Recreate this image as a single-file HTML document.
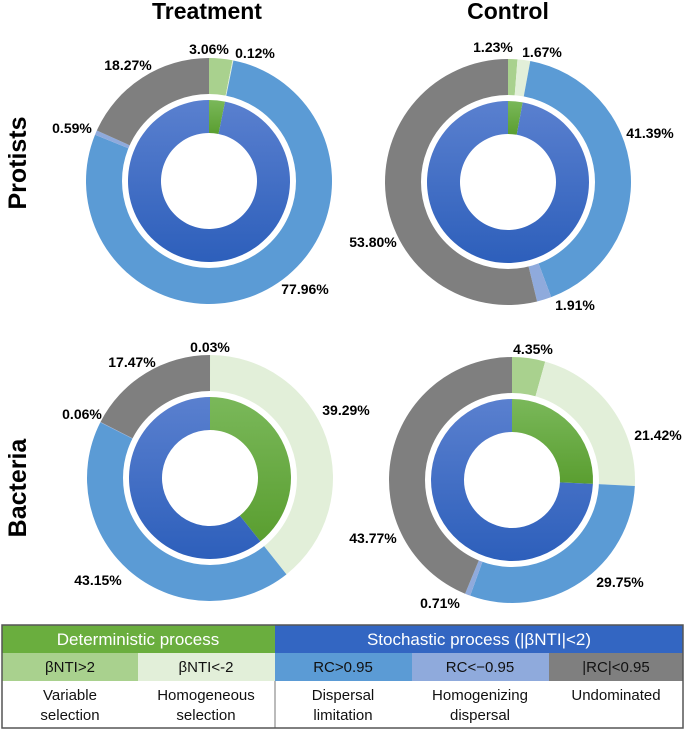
<!DOCTYPE html>
<html><head><meta charset="utf-8">
<style>
body{margin:0;background:#fff;font-family:"Liberation Sans",Arial,sans-serif;}
svg text{font-family:"Liberation Sans",Arial,sans-serif;}
</style></head>
<body>
<svg id="chart" width="685" height="730" xmlns="http://www.w3.org/2000/svg">
<defs>
<linearGradient id="gBlue" x1="0" y1="0" x2="0" y2="1"><stop offset="0" stop-color="#5a80cf"/><stop offset="1" stop-color="#2d5fbb"/></linearGradient>
<linearGradient id="gGreen" x1="0" y1="0" x2="0" y2="1"><stop offset="0" stop-color="#7ab85a"/><stop offset="1" stop-color="#5a9e30"/></linearGradient>
</defs>
<text x="207" y="19" text-anchor="middle" font-size="23" font-weight="bold">Treatment</text>
<text x="508" y="19" text-anchor="middle" font-size="23" font-weight="bold">Control</text>
<text transform="translate(26,163) rotate(-90)" text-anchor="middle" font-size="25" font-weight="bold">Protists</text>
<text transform="translate(26,488) rotate(-90)" text-anchor="middle" font-size="25" font-weight="bold">Bacteria</text>
<g id="donuts"></g>
<g>
<rect x="2" y="625" width="273" height="28" fill="#6aae3e"/>
<rect x="275" y="625" width="408" height="28" fill="#3366c2"/>
<text x="138" y="645" text-anchor="middle" font-size="17" fill="#fff">Deterministic process</text>
<text x="479" y="645" text-anchor="middle" font-size="17" fill="#fff">Stochastic process (|βNTI|&lt;2)</text>
<rect x="2" y="653" width="136" height="28" fill="#a9d18e"/>
<rect x="138" y="653" width="137" height="28" fill="#e2efd9"/>
<rect x="275" y="653" width="137" height="28" fill="#5b9bd5"/>
<rect x="412" y="653" width="137" height="28" fill="#8faadc"/>
<rect x="549" y="653" width="134" height="28" fill="#7f7f7f"/>
<g font-size="15" text-anchor="middle" fill="#111">
<text x="70" y="672">βNTI&gt;2</text>
<text x="206" y="672">βNTI&lt;-2</text>
<text x="343" y="672">RC&gt;0.95</text>
<text x="480" y="672">RC&lt;−0.95</text>
<text x="616" y="672">|RC|&lt;0.95</text>
<text x="70" y="700">Variable</text><text x="70" y="720">selection</text>
<text x="206" y="700">Homogeneous</text><text x="206" y="720">selection</text>
<text x="343" y="700">Dispersal</text><text x="343" y="720">limitation</text>
<text x="480" y="700">Homogenizing</text><text x="480" y="720">dispersal</text>
<text x="616" y="700">Undominated</text>
</g>
<line x1="275" y1="681" x2="275" y2="728" stroke="#777" stroke-width="1"/>
<rect x="2" y="625" width="681" height="103" fill="none" stroke="#555" stroke-width="1.5"/>
</g>
</svg>
<script>
const categories = ["Variable selection","Homogeneous selection","Dispersal limitation","Homogenizing dispersal","Undominated"];
const panels = ["treatment-protists","control-protists","treatment-bacteria","control-bacteria"];
const protTreat = [3.06, 0.12, 77.96, 0.59, 18.27];
const protCtrl = [1.23, 1.67, 41.39, 1.91, 53.80];
const bactTreat = [0.03, 39.29, 43.15, 0.06, 17.47];
const bactCtrl = [4.35, 21.42, 29.75, 0.71, 43.77];
const colors = ["#a9d18e","#e2efd9","#5b9bd5","#8faadc","#7f7f7f"];
const centers = [[209,181],[508,182],[210,478],[512,480]];
const labelPos = [
 [[209,54],[255,58],[305,294],[72,133],[128,70]],
 [[493,52],[542,57],[650,138],[575,310],[373,247]],
 [[210,352],[346,415],[98,585],[82,419],[132,367]],
 [[533,354],[658,440],[620,587],[440,608],[373,543]]
];
const allData = [protTreat, protCtrl, bactTreat, bactCtrl];
const NS = "http://www.w3.org/2000/svg";
const R_OUT = 123, R_OUT_IN = 86, R_IN = 81, R_HOLE = 48;
function pt(cx, cy, r, a){ return [cx + r*Math.sin(a), cy - r*Math.cos(a)]; }
function arcPath(cx, cy, r0, r1, a0, a1){
  if (a1 - a0 >= 2*Math.PI - 1e-6) a1 = a0 + 2*Math.PI - 1e-4;
  const large = (a1 - a0) > Math.PI ? 1 : 0;
  const p0 = pt(cx,cy,r1,a0), p1 = pt(cx,cy,r1,a1), p2 = pt(cx,cy,r0,a1), p3 = pt(cx,cy,r0,a0);
  return `M${p0[0]},${p0[1]} A${r1},${r1} 0 ${large} 1 ${p1[0]},${p1[1]} L${p2[0]},${p2[1]} A${r0},${r0} 0 ${large} 0 ${p3[0]},${p3[1]} Z`;
}
const root = document.getElementById("donuts");
allData.forEach((vals, pi) => {
  const [cx, cy] = centers[pi];
  const g = document.createElementNS(NS, "g");
  
  
  root.appendChild(g);
  const total = vals.reduce((s,v)=>s+v,0);
  let a = 0;
  vals.forEach((v, i) => {
    const a1 = a + v/total*2*Math.PI;
    const p = document.createElementNS(NS, "path");
    p.setAttribute("d", arcPath(cx, cy, R_OUT_IN, R_OUT, a, a1));
    p.setAttribute("fill", colors[i]);
    
    
    g.appendChild(p);
    a = a1;
  });
  const sep = document.createElementNS(NS, "circle");
  sep.setAttribute("cx", cx); sep.setAttribute("cy", cy); sep.setAttribute("r", (R_OUT_IN+R_IN)/2 + 1);
  sep.setAttribute("fill", "none"); sep.setAttribute("stroke", "#fff"); sep.setAttribute("stroke-width", 5);
  
  
  g.appendChild(sep);
  const det = (vals[0] + vals[1]) / total;
  const inner = [[0, det*2*Math.PI, "url(#gGreen)", "deterministic"], [det*2*Math.PI, 2*Math.PI, "url(#gBlue)", "stochastic"]];
  inner.forEach(s => {
    const p = document.createElementNS(NS, "path");
    p.setAttribute("d", arcPath(cx, cy, R_HOLE, R_IN, s[0], s[1]));
    p.setAttribute("fill", s[2]);
    
    
    g.appendChild(p);
  });
  vals.forEach((v, i) => {
    const t = document.createElementNS(NS, "text");
    const lp = labelPos[pi][i];
    t.setAttribute("x", lp[0]); t.setAttribute("y", lp[1]);
    t.setAttribute("text-anchor", "middle"); t.setAttribute("font-size", "14"); t.setAttribute("font-weight", "bold");
    t.textContent = v.toFixed(2) + "%";
    
    
    g.appendChild(t);
  });
});
</script>
</body></html>
